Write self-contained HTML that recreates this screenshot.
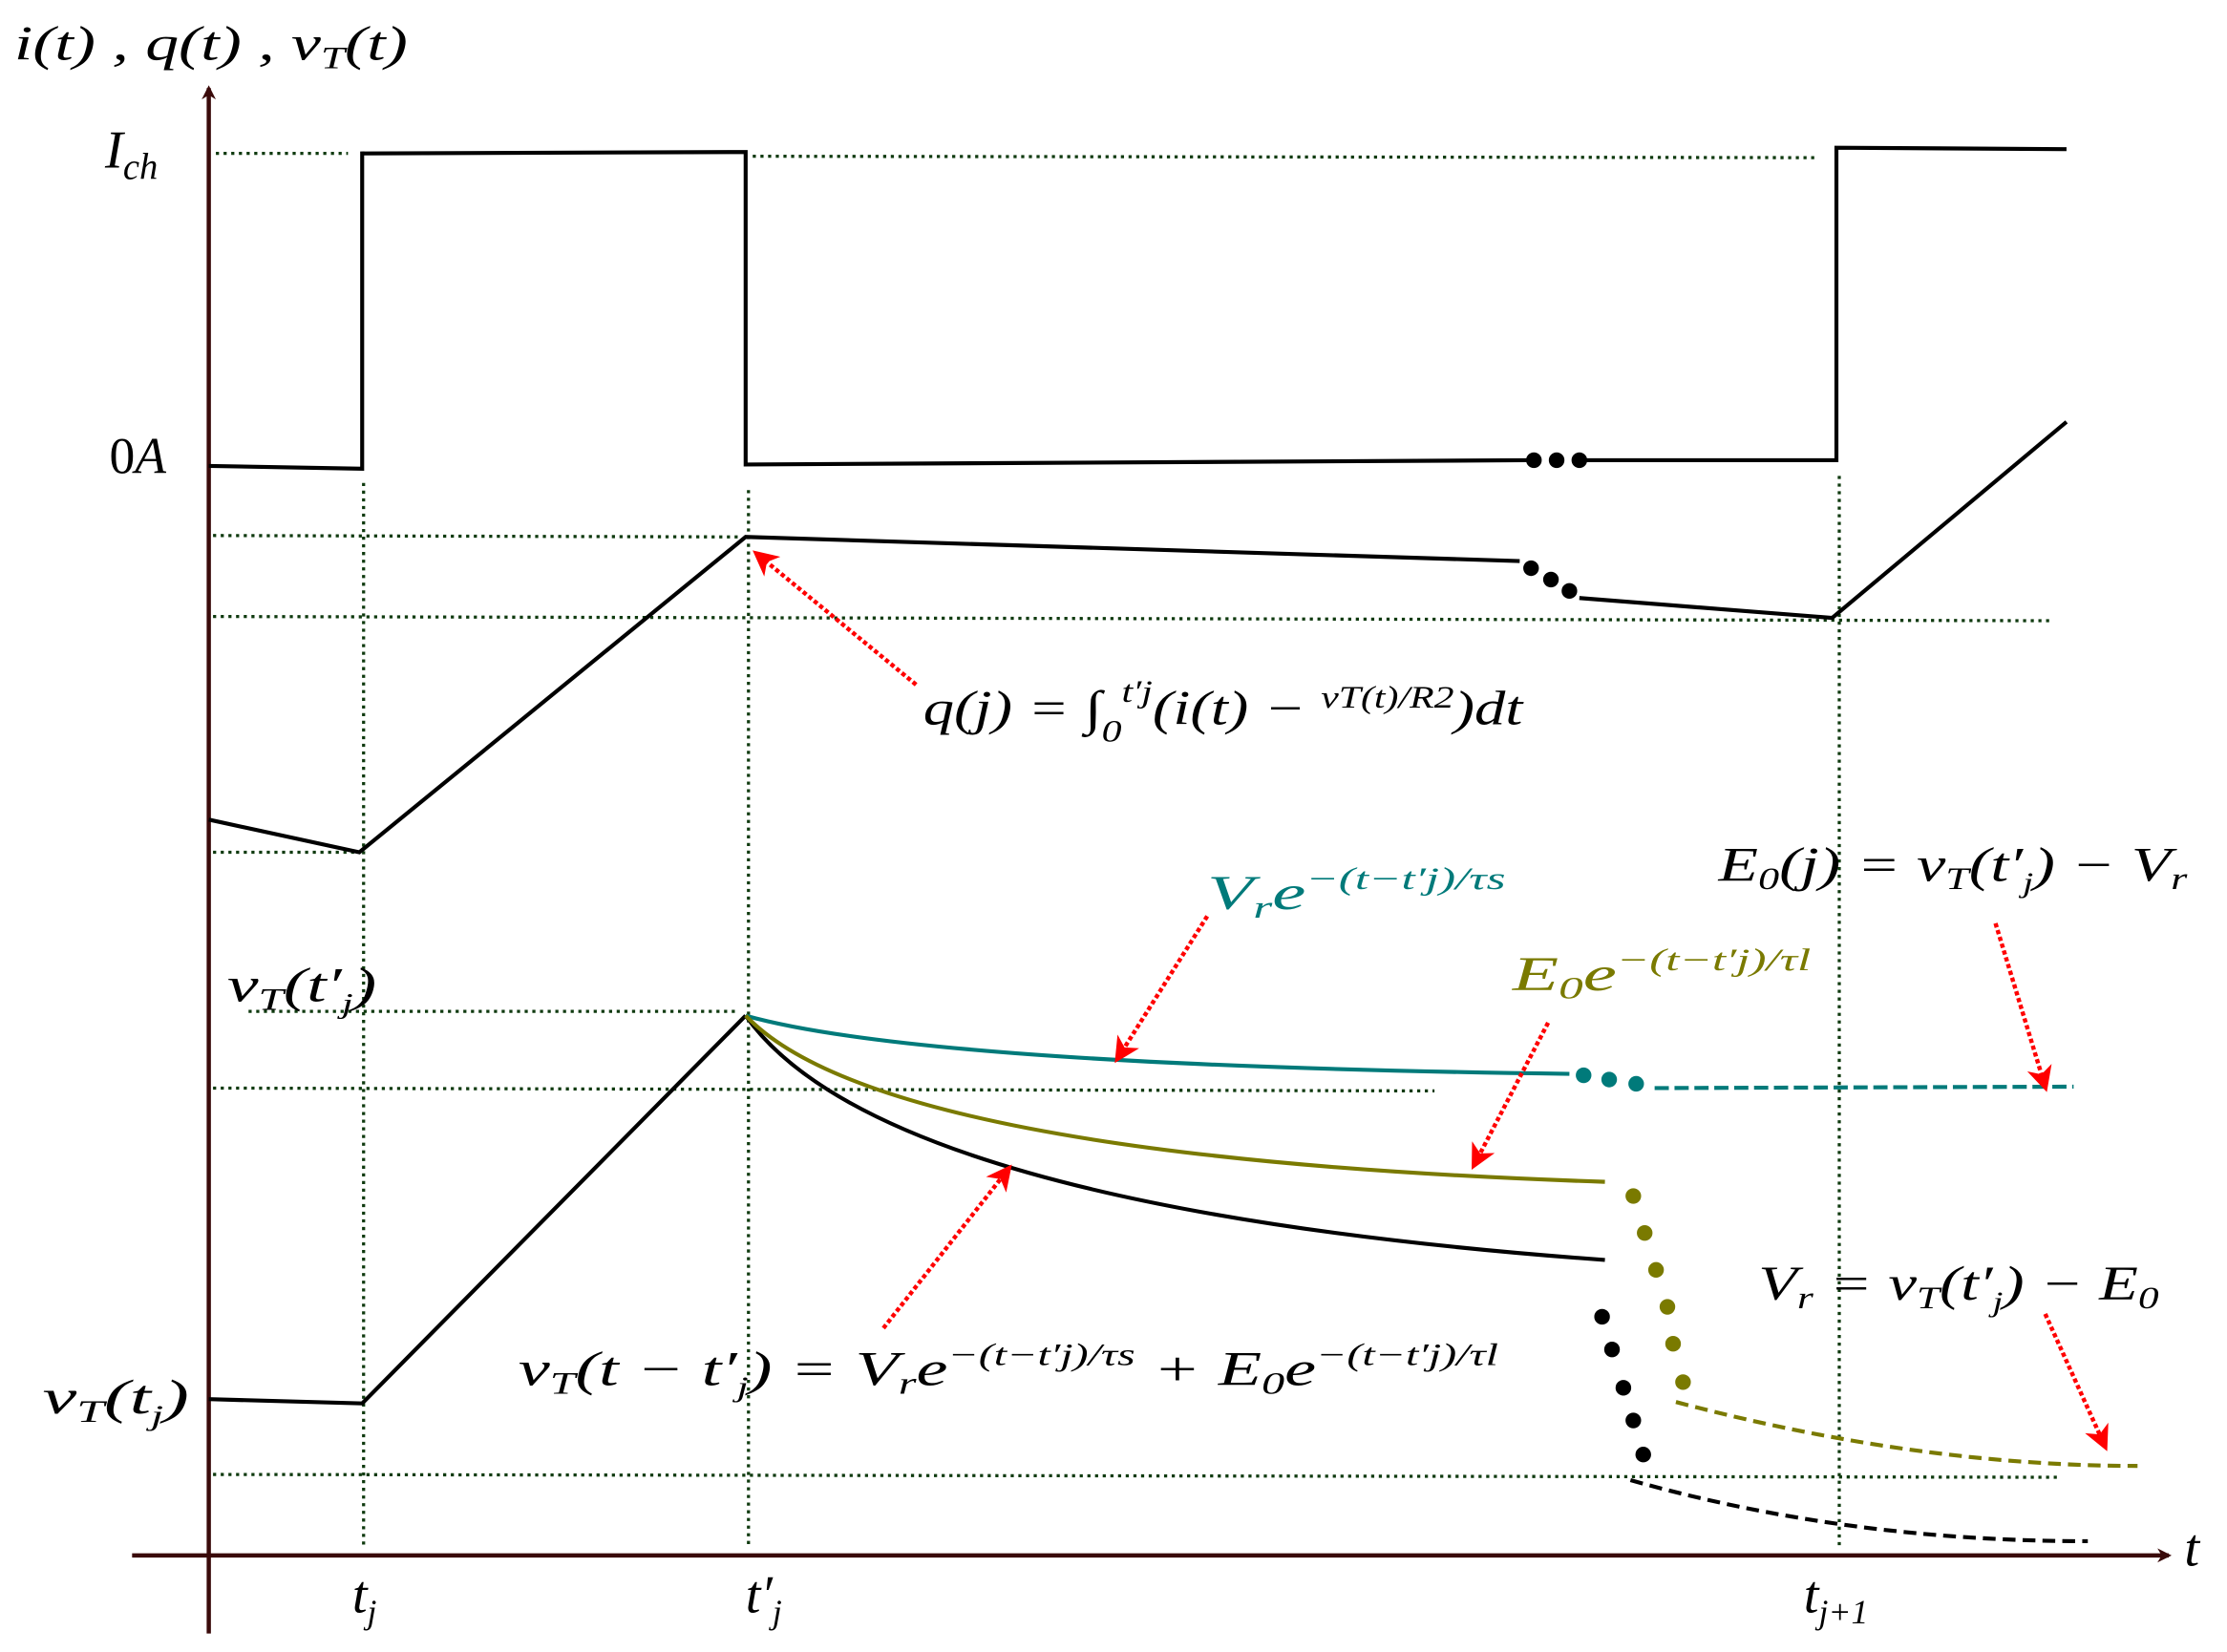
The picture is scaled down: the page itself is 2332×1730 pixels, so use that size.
<!DOCTYPE html>
<html><head><meta charset="utf-8"><style>html,body{margin:0;padding:0;background:#fff}svg{display:block}</style></head>
<body>
<svg width="2332" height="1730" viewBox="0 0 1568 1163" preserveAspectRatio="none" xmlns="http://www.w3.org/2000/svg" font-family="Liberation Serif, serif" font-style="italic">
<defs>
<marker id="ax" markerWidth="10" markerHeight="10" refX="8" refY="5" orient="auto" markerUnits="userSpaceOnUse"><path d="M0,0 L10,5 L0,10 L3,5 Z" fill="#3a0a0a"/></marker>
<marker id="ra" markerWidth="18" markerHeight="18" refX="14" refY="9" orient="auto" markerUnits="userSpaceOnUse"><path d="M0,0 L18,9 L0,18 L5,9 Z" fill="#f00"/></marker>
</defs>
<g stroke="#0f3a0f" stroke-width="2.2" stroke-dasharray="2.2,3.2" fill="none">
<line x1="152" y1="108" x2="245" y2="108"/>
<line x1="530" y1="110" x2="1280" y2="111"/>
<line x1="150" y1="377" x2="520" y2="378"/>
<line x1="150" y1="434" x2="1445" y2="437"/>
<line x1="150" y1="600" x2="250" y2="600"/>
<line x1="175" y1="712" x2="520" y2="712"/>
<line x1="150" y1="766" x2="1010" y2="768"/>
<line x1="150" y1="1038" x2="1450" y2="1040"/>
<line x1="256" y1="340" x2="256" y2="1090"/>
<line x1="527" y1="345" x2="527" y2="1090"/>
<line x1="1295" y1="335" x2="1295" y2="1090"/>
</g>
<line x1="147" y1="1150" x2="147" y2="62" stroke="#3a0a0a" stroke-width="3" marker-end="url(#ax)"/>
<line x1="93" y1="1095" x2="1527" y2="1095" stroke="#3a0a0a" stroke-width="3" marker-end="url(#ax)"/>
<g fill="none" stroke="#000" stroke-width="2.8">
<polyline points="147,328 255,330 255,108 525,107 525,327 1075,324"/>
<polyline points="1112,324 1293,324 1293,104 1455,105"/>
<polyline points="147,577 253,600 525,378 1070,395"/>
<polyline points="1112,421 1290,435 1455,297"/>
<polyline points="147,985 255,988 525,715"/>
<path d="M525,715 Q620,850 1130,887"/>
<path d="M1148,1042 Q1300,1085 1470,1085" stroke-dasharray="9,5"/>
</g>
<path d="M525,715 Q650,750 1105,756" fill="none" stroke="#007a7a" stroke-width="2.8"/>
<path d="M1165,766 L1460,765" fill="none" stroke="#007a7a" stroke-width="2.8" stroke-dasharray="10,4"/>
<path d="M525,715 Q620,815 1130,832" fill="none" stroke="#7a7a00" stroke-width="2.8"/>
<path d="M1180,987 Q1350,1032 1505,1032" fill="none" stroke="#7a7a00" stroke-width="2.8" stroke-dasharray="9,5"/>
<g fill="#000"><circle cx="1080" cy="324" r="5.5"/><circle cx="1096" cy="324" r="5.5"/><circle cx="1112" cy="324" r="5.5"/>
<circle cx="1078" cy="400" r="5.5"/><circle cx="1092" cy="408" r="5.5"/><circle cx="1105" cy="416" r="5.5"/>
<circle cx="1128" cy="927" r="5.5"/><circle cx="1135" cy="950" r="5.5"/><circle cx="1143" cy="977" r="5.5"/><circle cx="1150" cy="1000" r="5.5"/><circle cx="1157" cy="1024" r="5.5"/></g>
<g fill="#007a7a"><circle cx="1115" cy="757" r="5.5"/><circle cx="1133" cy="760" r="5.5"/><circle cx="1152" cy="763" r="5.5"/></g>
<g fill="#7a7a00"><circle cx="1150" cy="842" r="5.5"/><circle cx="1158" cy="868" r="5.5"/><circle cx="1166" cy="894" r="5.5"/><circle cx="1174" cy="920" r="5.5"/><circle cx="1178" cy="946" r="5.5"/><circle cx="1185" cy="973" r="5.5"/></g>
<g stroke="#f00" stroke-width="3" stroke-dasharray="3,2" fill="none" marker-end="url(#ra)">
<line x1="645" y1="482" x2="533" y2="390"/>
<line x1="850" y1="645" x2="787" y2="745"/>
<line x1="1090" y1="720" x2="1038" y2="820"/>
<line x1="1405" y1="650" x2="1440" y2="765"/>
<line x1="622" y1="935" x2="710" y2="823"/>
<line x1="1440" y1="925" x2="1482" y2="1018"/>
</g>
<g font-size="34" fill="#000">
<text x="10" y="42" textLength="277" lengthAdjust="spacingAndGlyphs">i(t) , q(t) , v<tspan font-size="22" dy="6">T</tspan><tspan dy="-6">(t)</tspan></text>
<text x="74" y="118" font-size="38">I<tspan font-size="26" dy="8">ch</tspan></text>
<text x="77" y="333" font-size="36" font-style="normal">0<tspan font-style="italic">A</tspan></text>
<text x="160" y="705" textLength="105" lengthAdjust="spacingAndGlyphs">v<tspan font-size="22" dy="6">T</tspan><tspan dy="-6">(t′</tspan><tspan font-size="20" dy="8">j</tspan><tspan dy="-8">)</tspan></text>
<text x="30" y="995" textLength="103" lengthAdjust="spacingAndGlyphs">v<tspan font-size="22" dy="6">T</tspan><tspan dy="-6">(t</tspan><tspan font-size="20" dy="8">j</tspan><tspan dy="-8">)</tspan></text>
<text x="248" y="1135" font-size="38">t<tspan font-size="24" dy="8">j</tspan></text>
<text x="525" y="1135" font-size="38">t′<tspan font-size="24" dy="8">j</tspan></text>
<text x="1270" y="1135" font-size="38">t<tspan font-size="24" dy="8">j+1</tspan></text>
<text x="1538" y="1102" font-size="38">t</text>
<text x="650" y="510" textLength="422" lengthAdjust="spacingAndGlyphs">q(j) = ∫<tspan font-size="22" dy="12">0</tspan><tspan font-size="22" dy="-28">t′j</tspan><tspan dy="16">(i(t) − </tspan><tspan font-size="22" dy="-12">vT(t)/R2</tspan><tspan dy="12">)dt</tspan></text>
<text x="1210" y="620" textLength="330" lengthAdjust="spacingAndGlyphs">E<tspan font-size="22" dy="6">0</tspan><tspan dy="-6">(j) = v</tspan><tspan font-size="22" dy="6">T</tspan><tspan dy="-6">(t′</tspan><tspan font-size="20" dy="8">j</tspan><tspan dy="-8">) − V</tspan><tspan font-size="22" dy="6">r</tspan></text>
<text x="1238" y="915" textLength="282" lengthAdjust="spacingAndGlyphs">V<tspan font-size="22" dy="6">r</tspan><tspan dy="-6"> = v</tspan><tspan font-size="22" dy="6">T</tspan><tspan dy="-6">(t′</tspan><tspan font-size="20" dy="8">j</tspan><tspan dy="-8">) − E</tspan><tspan font-size="22" dy="6">0</tspan></text>
<text x="365" y="975" textLength="690" lengthAdjust="spacingAndGlyphs">v<tspan font-size="22" dy="6">T</tspan><tspan dy="-6">(t − t′</tspan><tspan font-size="20" dy="8">j</tspan><tspan dy="-8">) = V</tspan><tspan font-size="22" dy="6">r</tspan><tspan dy="-6">e</tspan><tspan font-size="22" dy="-14">−(t−t′j)/τs</tspan><tspan dy="14"> + E</tspan><tspan font-size="22" dy="6">0</tspan><tspan dy="-6">e</tspan><tspan font-size="22" dy="-14">−(t−t′j)/τl</tspan></text>
</g>
<text x="850" y="640" font-size="34" fill="#007a7a" textLength="210" lengthAdjust="spacingAndGlyphs">V<tspan font-size="22" dy="6">r</tspan><tspan dy="-6">e</tspan><tspan font-size="22" dy="-14">−(t−t′j)/τs</tspan></text>
<text x="1065" y="697" font-size="34" fill="#7a7a00" textLength="210" lengthAdjust="spacingAndGlyphs">E<tspan font-size="22" dy="6">0</tspan><tspan dy="-6">e</tspan><tspan font-size="22" dy="-14">−(t−t′j)/τl</tspan></text>
</svg>
</body></html>
